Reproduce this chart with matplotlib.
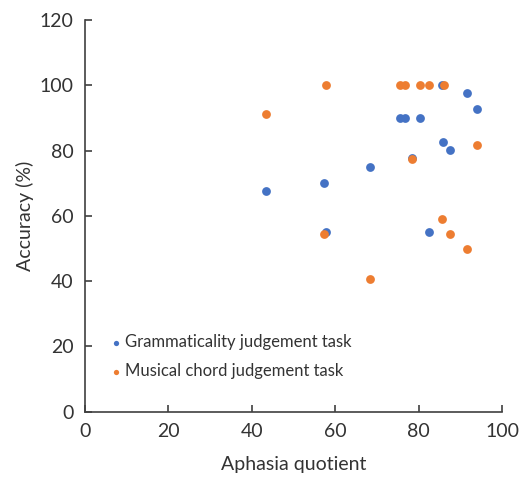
import matplotlib
matplotlib.use("Agg")
import matplotlib.pyplot as plt

aq = [43.4, 57.3, 57.8, 68.3, 75.5, 76.7, 78.3, 80.3, 82.5, 85.5, 85.9, 87.4, 91.5, 94.0]
grammar = [67.6, 70.1, 55.1, 75.0, 90.0, 90.0, 77.8, 90.0, 55.0, 100.0, 82.6, 80.2, 97.6, 92.7]
aq_music = [43.4, 57.3, 57.8, 68.3, 75.5, 76.7, 78.3, 80.3, 82.5, 86.1, 85.5, 87.4, 91.5, 94.0]
music = [91.2, 54.4, 100.0, 40.6, 100.0, 100.0, 77.4, 100.0, 100.0, 100.0, 59.0, 54.4, 49.8, 81.8]

xticks = [0, 20, 40, 60, 80, 100]
yticks = [0, 20, 40, 60, 80, 100, 120]

plt.rcParams['font.family'] = ['Lato', 'DejaVu Sans']
fig = plt.figure(figsize=(5.26, 4.78), dpi=100)
ax = fig.add_axes([0.161, 0.139, 0.794, 0.819])

ax.scatter(aq, grammar, s=40, color='#4472C4', label='Grammaticality judgement task', zorder=3, linewidths=0)
ax.scatter(aq_music, music, s=40, color='#ED7D31', label='Musical chord judgement task', zorder=4, linewidths=0)

ax.set_xlim(0, 100)
ax.set_ylim(0, 120)
ax.set_xticks(xticks)
ax.set_yticks(yticks)
for s in ['top', 'right']:
    ax.spines[s].set_visible(False)
for s in ['left', 'bottom']:
    ax.spines[s].set_color('#404040')
    ax.spines[s].set_linewidth(1.2)
ax.tick_params(direction='in', length=5, width=1.2, color='#404040', labelsize=14, labelcolor='#333333', pad=8)
ax.set_xlabel('Aphasia quotient', fontsize=14, color='#333333', labelpad=12)
ax.set_ylabel('Accuracy (%)', fontsize=14, color='#333333')
ax.yaxis.set_label_coords(-0.122, 0.5)

ax.legend(loc='lower left', bbox_to_anchor=(0.02, 0.045), frameon=False, fontsize=12,
          markerscale=0.6, handletextpad=0.0, labelspacing=0.78, handlelength=1.0,
          labelcolor='#333333')

fig.savefig('out.png', dpi=100)
